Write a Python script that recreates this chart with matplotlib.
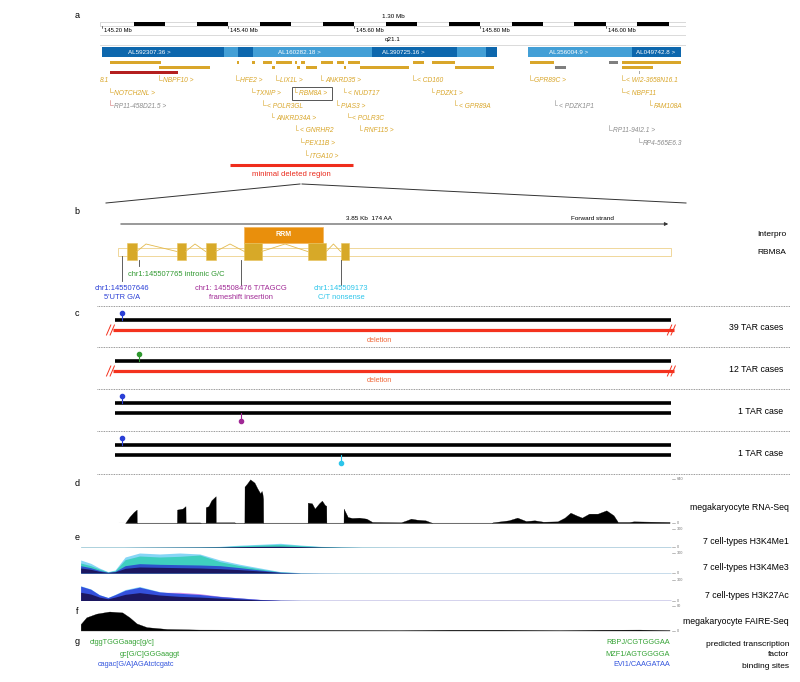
import matplotlib.pyplot as plt
from matplotlib.patches import Rectangle

W, H = 800, 682
plt.rcParams['font.family'] = ['Liberation Sans', 'DejaVu Sans']

# ---------------- panel a : 1q21.1 overview (chr1, Mb) ----------------
scale_ticks = [145.2, 145.4, 145.6, 145.8, 146.0]
clone_start = [145.200, 145.394, 145.416, 145.440, 145.629, 145.763, 145.810, 145.876, 146.041]
clone_end = [145.394, 145.416, 145.440, 145.629, 145.763, 145.810, 145.827, 146.041, 146.119]
clone_dark = [1, 0, 1, 0, 1, 0, 1, 0, 1]
clone_names = ["AL592307.36 >", "AL160282.18 >", "AL390725.16 >", "AL356004.9 >", "AL049742.8 >"]
clone_name_pos = [145.275, 145.514, 145.678, 145.941, 146.079]

gene_row1 = [(145.2127, 145.2937), (145.4143, 145.4175), (145.4381, 145.4429), (145.4556, 145.4698),
             (145.4762, 145.5016), (145.5063, 145.5095), (145.5159, 145.5222), (145.5476, 145.5667),
             (145.5730, 145.5841), (145.5905, 145.6095), (145.6937, 145.7111), (145.7238, 145.7603),
             (145.8794, 145.9175), (146.0254, 146.1190)]
gene_row2 = [(145.2905, 145.3714), (145.4698, 145.4746), (145.5095, 145.5143), (145.5238, 145.5413),
             (145.5841, 145.5873), (145.6095, 145.6873), (145.7603, 145.8222), (146.0254, 146.0746)]
pseudo_row1 = [(146.0048, 146.0190)]
pseudo_row2 = [(145.9190, 145.9365)]
lincrna_row3 = [(145.2127, 145.3206)]
small_row3 = [(146.0524, 146.0532, 'grey'), (146.0694, 146.0702, 'gene')]

gene_names = ["8.1", "NBPF10 >", "HFE2 >", "LIX1L >", "ANKRD35 >", "< CD160", "GPR89C >", "< WI2-3658N16.1",
              "NOTCH2NL >", "TXNIP >", "RBM8A >", "< NUDT17", "PDZK1 >", "< NBPF11",
              "RP11-458D21.5 >", "< POLR3GL", "PIAS3 >", "< GPR89A", "< PDZK1P1", "FAM108A",
              "ANKRD34A >", "< POLR3C",
              "< GNRHR2", "RNF115 >", "RP11-94I2.1 >",
              "PEX11B >", "RP4-565E6.3",
              "ITGA10 >"]
gene_pos = [145.1963, 145.2905, 145.4127, 145.4762, 145.5476, 145.6937, 145.8794, 146.0254,
            145.2127, 145.4381, 145.5063, 145.5841, 145.7238, 146.0254,
            145.2127, 145.4556, 145.5730, 145.7603, 145.9190, 146.0698,
            145.4698, 145.5905,
            145.5079, 145.6095, 146.0048,
            145.5159, 146.0524,
            145.5238]
gene_row = [0] * 8 + [1] * 6 + [2] * 6 + [3] * 2 + [4] * 3 + [5] * 2 + [6]
gene_grey = ["RP" in n or "PDZK1P1" in n for n in gene_names]
min_deleted = (145.4032, 145.5984)

# ---------------- panel b : RBM8A (kb from transcript start) ----------------
GENE_START = 145507618
tx_len = 3.85
exon_start = [0.06, 0.41, 0.61, 0.88, 1.32, 1.55]
exon_end = [0.13, 0.47, 0.68, 1.00, 1.45, 1.61]
intron_peak = [0.195, 0.536, 0.780, 1.163, 1.50]
rrm = (0.88, 1.43)
var_pos = [145507646, 145507765, 145508476, 145509173]
var_line1 = ["chr1:145507646", "chr1:145507765 intronic G/C", "chr1: 145508476 T/TAGCG", "chr1:145509173"]
var_line2 = ["5'UTR G/A", "", "frameshift insertion", "C/T nonsense"]
var_colors = ["#2a3fd6", "#2f982f", "#a02895", "#2cc5ea"]

# ---------------- panel c : TAR genotypes ----------------
case_labels = ["39 TAR cases", "12 TAR cases", "1 TAR case", "1 TAR case"]
case_alleles = [[0, "del"], [1, "del"], [0, 2], [0, 3]]

# ---------------- panel d : megakaryocyte RNA-Seq ----------------
rna_kb = [0.05, 0.08, 0.11, 0.13, 0.131,
          0.41, 0.411, 0.45, 0.47, 0.471, 0.57, 0.58,
          0.61, 0.611, 0.63, 0.65, 0.68, 0.681, 0.81, 0.82,
          0.88, 0.881, 0.90, 0.92, 0.95, 0.97, 0.99, 1.00, 1.005, 1.01, 1.011,
          1.32, 1.321, 1.35, 1.37, 1.40, 1.42, 1.44, 1.45, 1.451,
          1.57, 1.571, 1.60, 1.63, 1.68, 1.73, 1.77, 1.97, 2.01, 2.04, 2.08, 2.14, 2.19,
          2.60, 2.61, 2.72, 2.78, 2.84, 2.90, 2.96, 3.06, 3.11, 3.15, 3.19, 3.23, 3.28,
          3.34, 3.40, 3.45, 3.48, 3.56, 3.59, 3.84]
rna_val = [0, 90, 160, 195, 0,
           0, 195, 210, 245, 8, 8, 0,
           0, 230, 245, 330, 390, 10, 10, 0,
           0, 529, 577, 635, 587, 504, 432, 466, 432, 354, 0,
           0, 296, 286, 209, 286, 325, 262, 250, 0,
           0, 209, 87, 73, 78, 63, 15, 10, 39, 63, 49, 39, 0,
           0, 10, 39, 78, 29, 39, 19, 24, 78, 150, 112, 78, 136,
           136, 184, 112, 15, 15, 24, 15]

# ---------------- panel e : histone marks, 7 cell types ----------------
hist_kb = [-0.26, -0.19, -0.13, -0.07, -0.02, 0.05, 0.15, 0.29, 0.43, 0.57, 0.71,
           0.85, 0.99, 1.13, 1.27, 1.41, 1.55, 1.69, 1.96, 2.66, 3.36, 3.85]
me1_sky = [4, 4, 4, 4, 4, 4, 5, 6, 8, 10, 18, 38, 52, 68, 40, 18, 8, 4, 3, 3, 3, 3]
me1_teal = [3, 3, 3, 3, 3, 3, 4, 5, 6, 8, 12, 28, 40, 52, 32, 14, 6, 3, 2, 2, 2, 2]
me1_navy = [2, 2, 2, 2, 2, 2, 3, 4, 5, 6, 8, 14, 18, 20, 15, 8, 4, 2, 2, 2, 2, 2]
me3_sky = [195, 145, 75, 20, 45, 240, 300, 285, 300, 285, 195, 130, 75, 20, 5, 3, 2, 2, 2, 2, 2, 2]
me3_teal = [150, 110, 60, 15, 35, 200, 255, 240, 250, 270, 170, 110, 60, 15, 4, 2, 2, 2, 1, 1, 1, 1]
me3_blue = [110, 80, 40, 10, 25, 110, 140, 130, 125, 120, 110, 80, 45, 12, 3, 2, 1, 1, 1, 1, 1, 1]
me3_navy = [75, 55, 25, 8, 18, 70, 90, 85, 80, 75, 65, 50, 30, 8, 2, 1, 1, 1, 1, 1, 1, 1]
k27_sky = [215, 170, 86, 45, 90, 160, 205, 130, 90, 85, 60, 38, 15, 4, 2, 1, 1, 1, 1, 1, 1, 1]
k27_violet = [150, 120, 60, 30, 60, 110, 150, 120, 120, 100, 62, 38, 16, 4, 2, 2, 2, 2, 2, 2, 2, 2]
k27_blue = [210, 165, 84, 43, 85, 150, 195, 125, 105, 88, 58, 36, 14, 3, 1, 1, 1, 1, 1, 1, 1, 1]
k27_navy = [120, 95, 50, 25, 50, 90, 115, 80, 60, 50, 35, 22, 8, 2, 1, 1, 1, 1, 1, 1, 1, 1]

# ---------------- panel f : FAIRE-Seq ----------------
faire_kb = [-0.26, -0.22, -0.15, -0.06, 0.03, 0.08, 0.13, 0.20, 0.34, 0.57, 0.99,
            1.27, 1.62, 1.96, 2.31, 2.66, 3.08, 3.36, 3.63, 3.84]
faire_val = [21, 43, 55, 62, 59, 43, 23, 11, 5, 3, 2.5, 2, 1.5, 1, 2.5, 2.5, 1, 2.5, 3, 1]

# ---------------- panel g : predicted TF binding sites ----------------
tfbs_left = ["ctggTGGGaagc[g/c]", "gc[G/C]GGGaaggt", "cagac[G/A]AGAtctcgatc"]
tfbs_left_kb = [-0.195, 0.014, -0.139]
tfbs_right = ["RBPJ/CGTGGGAA", "MZF1/AGTGGGGA", "EVI1/CAAGATAA"]
tfbs_right_kb = [3.843, 3.843, 3.843]
tfbs_colors = ["#36a336", "#36a336", "#3355dd"]

# ======================================================================
fig = plt.figure(figsize=(8, 6.82), dpi=100)


def px_axes(x0, y0, x1, y1):
    ax = fig.add_axes([x0 / W, 1 - y1 / H, (x1 - x0) / W, (y1 - y0) / H])
    ax.set_axis_off()
    return ax


bg = px_axes(0, 0, W, H)
bg.set_xlim(0, W)
bg.set_ylim(H, 0)

GOLD = "#d9a62a"
GREY = "#8c8c8c"

# ---- panel a ----
MB_PER_PX = 1 / 630.0
ax_a = px_axes(100, 0, 686, 180)
ax_a.set_xlim(145.2 - 2 * MB_PER_PX, 145.2 + 584 * MB_PER_PX)
ax_a.set_ylim(180, 0)
x0a, x1a = ax_a.get_xlim()

ax_a.add_patch(Rectangle((x0a, 22), x1a - x0a, 3.5, fc="white", ec="#bbbbbb", lw=0.4))
b = 145.25
while b < x1a:
    ax_a.add_patch(Rectangle((b, 22), 0.05, 3.5, fc="black", lw=0))
    b += 0.1
ax_a.text((x0a + x1a) / 2, 17, "1.30 Mb", fontsize=4.5, ha="center", va="center")
for t in scale_ticks:
    ax_a.plot([t, t], [25.5, 28], color="black", lw=0.4)
    ax_a.text(t + 1.5 * MB_PER_PX, 31, "%.2f Mb" % t, fontsize=4.2, va="center")
ax_a.axhline(35, color="#cccccc", lw=0.5)
ax_a.axhline(44.5, color="#cccccc", lw=0.5)
ax_a.text((x0a + x1a) / 2, 39.5, "q21.1", fontsize=4.5, ha="center", va="center")

for s, e, d in zip(clone_start, clone_end, clone_dark):
    ax_a.add_patch(Rectangle((s, 47), e - s, 10, fc="#0d67ad" if d else "#439fd6", lw=0))
for n, p in zip(clone_names, clone_name_pos):
    ax_a.text(p, 52, n, fontsize=4.5, color="white", ha="center", va="center")

for s, e in gene_row1:
    ax_a.add_patch(Rectangle((s, 60.5), e - s, 3, fc=GOLD, lw=0))
for s, e in gene_row2:
    ax_a.add_patch(Rectangle((s, 65.5), e - s, 3, fc=GOLD, lw=0))
for s, e in pseudo_row1:
    ax_a.add_patch(Rectangle((s, 60.5), e - s, 3, fc="#7f7f7f", lw=0))
for s, e in pseudo_row2:
    ax_a.add_patch(Rectangle((s, 65.5), e - s, 3, fc="#7f7f7f", lw=0))
for s, e in lincrna_row3:
    ax_a.add_patch(Rectangle((s, 70.5), e - s, 3, fc="#b41f1f", lw=0))
for s, e, kind in small_row3:
    ax_a.add_patch(Rectangle((s, 70.5), e - s, 3.5, fc=GOLD if kind == "gene" else "#aaaaaa", lw=0))

row_y = [81, 93.5, 106, 118.5, 131, 143.5, 156]
for n, p, r, g in zip(gene_names, gene_pos, gene_row, gene_grey):
    y = row_y[r]
    col = GREY if g else GOLD
    if n != "8.1":
        hook_col = "#d07070" if n.startswith("RP11-458") else col
        ax_a.plot([p, p, p + 2.5 * MB_PER_PX], [y - 6, y - 1.5, y - 1.5], color=hook_col, lw=0.4)
        ax_a.text(p + 4 * MB_PER_PX, y, n, fontsize=4.8, style="italic", color=col,
                  va="center", clip_on=True)
    else:
        ax_a.text(p, y, n, fontsize=4.8, style="italic", color=col, va="center", clip_on=True)
    if n == "RBM8A >":
        ax_a.add_patch(Rectangle((p - 3 * MB_PER_PX, y - 6.5), 40 * MB_PER_PX, 12.5,
                                 fill=False, ec="#555555", lw=0.7))

ax_a.plot(min_deleted, [165, 165], color="#ef2d1c", lw=2.2, solid_capstyle="butt")
ax_a.text(sum(min_deleted) / 2, 175, "minimal deleted region", fontsize=5.6, color="#ea2a1c",
          ha="center", va="center")

# zoom lines a -> b
bg.plot([300, 106], [184, 203], color="#333333", lw=0.7)
bg.plot([302, 686], [184, 203], color="#333333", lw=0.7)

# ---- panels b, c, g share the gene axis ----
KB_PER_PX = tx_len / 553.0
XLIM_G = (-118 * KB_PER_PX, (W - 118) * KB_PER_PX)
ax_g = px_axes(0, 180, W, H)
ax_g.set_xlim(*XLIM_G)
ax_g.set_ylim(H, 180)

# panel b
ax_g.annotate("", xy=(tx_len, 224), xytext=(0, 224),
              arrowprops=dict(arrowstyle="-|>", color="#333333", lw=0.7, mutation_scale=5))
ax_g.text(1.75, 218, "3.85 Kb  174 AA", fontsize=4.6, ha="center", va="center")
ax_g.text(3.30, 218, "Forward strand", fontsize=4.6, ha="center", va="center")
ax_g.add_patch(Rectangle((rrm[0], 227), rrm[1] - rrm[0], 16, fc="#e98f0c", ec="#f2b45a", lw=0.5))
ax_g.text(sum(rrm) / 2, 235, "RRM", fontsize=5, color="white", weight="bold", ha="center", va="center")
ax_g.add_patch(Rectangle((0, 248), tx_len, 8, fill=False, ec="#f0d79a", lw=0.7))
for i in range(len(intron_peak)):
    ax_g.plot([exon_end[i], intron_peak[i], exon_start[i + 1]], [251.5, 244, 251.5], color="#e3ba4e", lw=0.6)
for s, e in zip(exon_start, exon_end):
    ax_g.add_patch(Rectangle((s, 243), e - s, 17, fc="#d7a928", ec="#e7c25a", lw=0.4))

var_kb = [(p - GENE_START) / 1000 for p in var_pos]
lead_top = [256, 260, 260, 260]
lead_bot = [281, 266, 285, 285]
for i, x in enumerate(var_kb):
    ax_g.plot([x, x], [lead_top[i], lead_bot[i]], color="#444444", lw=0.6)
    if var_line2[i]:
        ax_g.text(x, 289, var_line1[i], fontsize=5.4, color=var_colors[i], ha="center", va="center")
        ax_g.text(x, 297.5, var_line2[i], fontsize=5.4, color=var_colors[i], ha="center", va="center")
    else:
        ax_g.text(x - 0.08, 274, var_line1[i], fontsize=5.4, color=var_colors[i], va="center")

# panel c
band_top = [306, 347, 389, 431]
for top, alleles in zip(band_top, case_alleles):
    for k, al in enumerate(alleles):
        y = top + 14 + 10 * k
        if al == "del":
            ax_g.plot([-0.035, tx_len + 0.02], [y, y], color="#f4321e", lw=2.3, solid_capstyle="butt")
            for xe in (-0.035, tx_len + 0.02):
                for dx in (-0.045, -0.02):
                    ax_g.plot([xe + dx, xe + dx + 0.03], [y + 5, y - 5], color="#f4321e", lw=0.7)
            ax_g.text(1.82, top + 34, "deletion", fontsize=5.3, color="#f06a3c", ha="center", va="center")
        else:
            ax_g.plot([-0.02, tx_len], [y, y], color="black", lw=2.6, solid_capstyle="butt")
            x = var_kb[al]
            tip = y - 7 if k == 0 else y + 8
            ax_g.plot([x, x], [y, tip], color=var_colors[al], lw=0.8)
            ax_g.plot([x], [tip], "o", color=var_colors[al], ms=3)

for y in band_top + [474]:
    bg.plot([97, 790], [y, y], color="#777777", lw=0.6, ls=(0, (1, 1)))
for lab, top in zip(case_labels, band_top):
    bg.text(783, top + 22, lab, fontsize=6.3, ha="right", va="center")
bg.text(786, 234, "Interpro", fontsize=6, ha="right", va="center")
bg.text(786, 253, "RBM8A", fontsize=6, ha="right", va="center")

# panel g
for i, y in enumerate([643, 654, 665]):
    ax_g.text(tfbs_left_kb[i], y, tfbs_left[i], fontsize=5.3, color=tfbs_colors[i], va="center")
    ax_g.text(tfbs_right_kb[i], y, tfbs_right[i], fontsize=5.3, color=tfbs_colors[i], ha="right", va="center")
bg.text(789, 644, "predicted transcription", fontsize=6, ha="right", va="center")
bg.text(789, 655, "factor", fontsize=6, ha="right", va="center")
bg.text(789, 666, "binding sites", fontsize=6, ha="right", va="center")


# ---- signal tracks d, e, f ----
def track(y0, y1, top):
    ax = px_axes(0, y0, W, y1)
    ax.set_xlim(*XLIM_G)
    ax.set_ylim(0, top)
    return ax


ax_d = track(479, 523, 640)
ax_d.plot([0.01, 3.84], [0, 0], color="#999999", lw=0.8)
ax_d.fill_between(rna_kb, rna_val, color="black", lw=0.2)

ax_me1 = track(529, 547.5, 300)
ax_me3 = track(553, 573, 300)
ax_k27 = track(580, 600.5, 300)
for ax, layers in [(ax_me1, [(me1_sky, "#86d6f6"), (me1_teal, "#3fcfbf"), (me1_navy, "#1c1760")]),
                   (ax_me3, [(me3_sky, "#86d6f6"), (me3_teal, "#3fcfbf"), (me3_blue, "#2d52cc"),
                             (me3_navy, "#1c1760")]),
                   (ax_k27, [(k27_sky, "#86d6f6"), (k27_violet, "#cf8de6"), (k27_blue, "#3450dc"),
                             (k27_navy, "#1c1760")])]:
    for vals, col in layers:
        ax.fill_between(hist_kb, vals, color=col, lw=0)
    ax.plot([hist_kb[0], hist_kb[-1]], [0, 0], color="#7f78b0", lw=0.6)

ax_f = track(606, 630.5, 80)
ax_f.plot([faire_kb[0], faire_kb[-1]], [0, 0], color="#aaaaaa", lw=0.8)
ax_f.fill_between(faire_kb, faire_val, color="black", lw=0.2)

# track scales and labels
scale_y = [479, 523, 529, 547, 553, 573, 580, 601, 606, 631]
scale_txt = ["640", "0", "300", "0", "300", "0", "300", "0", "80", "0"]
for y, t in zip(scale_y, scale_txt):
    bg.plot([672, 675], [y, y], color="#888888", lw=0.4)
    bg.text(676.5, y, t, fontsize=2.8, color="#777777", va="center")
track_labels = ["megakaryocyte RNA-Seq", "7 cell-types H3K4Me1", "7 cell-types H3K4Me3",
                "7 cell-types H3K27Ac", "megakaryocyte FAIRE-Seq"]
for lab, y in zip(track_labels, [508, 542, 568, 595, 621]):
    bg.text(789, y, lab, fontsize=6.3, ha="right", va="center")

for letter, y in zip("abcdefg", [16, 212, 313, 484, 538, 612, 641]):
    bg.text(77, y, letter, fontsize=6.5, ha="center", va="center")

fig.savefig("out.png", dpi=100)
